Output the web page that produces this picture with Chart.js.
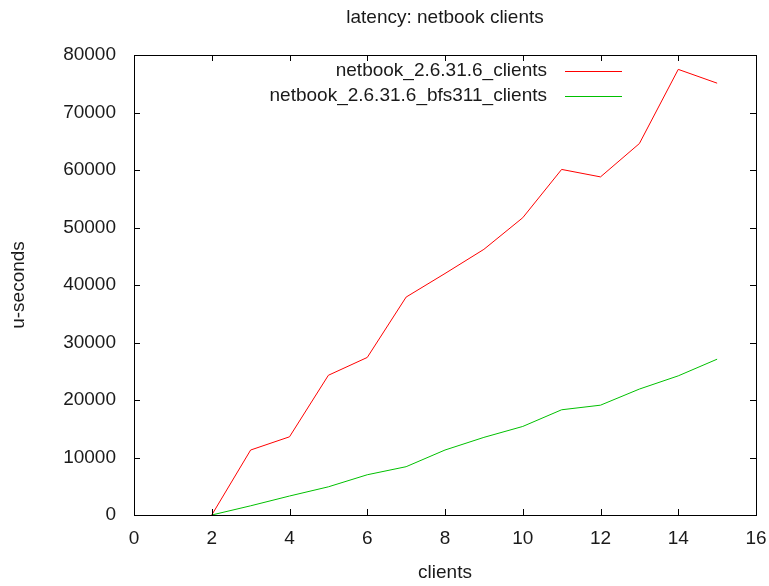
<!DOCTYPE html>
<html>
<head>
<meta charset="utf-8">
<title>latency: netbook clients</title>
<script src="https://cdn.jsdelivr.net/npm/chart.js@4/dist/chart.umd.min.js"></script>
<style>
  html, body { margin: 0; padding: 0; background: #fff; }
  #wrap { width: 769px; height: 586px; }
</style>
</head>
<body>
<div id="wrap"><canvas id="chart" width="769" height="586"></canvas></div>
<script>
// Number of clients on the x axis
const clients = [2, 3, 4, 5, 6, 7, 8, 9, 10, 11, 12, 13, 14, 15];
// Latency in microseconds, stock kernel
const stockLatency = [0, 11300, 13600, 24300, 27400, 37900, 42000, 46200, 51700, 60100, 58800, 64600, 77500, 75100];
// Latency in microseconds, BFS 311 kernel
const bfsLatency = [0, 1600, 3300, 4900, 7000, 8400, 11300, 13500, 15400, 18300, 19100, 21900, 24200, 27100];
const seriesNames = ['netbook_2.6.31.6_clients', 'netbook_2.6.31.6_bfs311_clients'];
const seriesColors = ['#ff0000', '#00c000'];
const chartTitle = 'latency: netbook clients';
const xTitle = 'clients';
const yTitle = 'u-seconds';

const FONT = "'Liberation Sans', Arial, sans-serif";
const FONT_SIZE = 19;
const TEXT = '#1a1a1a';

function points(ys) {
  return clients.map((c, i) => ({ x: c, y: ys[i] }));
}

// Gnuplot-style frame: border on four sides with inward, mirrored tick marks,
// a title centred over the plot area, and a key in the upper right with the
// sample line after the label.
const framePlugin = {
  id: 'frame',
  afterDraw(chart) {
    const { ctx, chartArea: a, scales } = chart;
    const tick = 6;
    ctx.save();
    ctx.strokeStyle = '#000';
    ctx.lineWidth = 1;
    ctx.beginPath();
    scales.x.ticks.forEach(t => {
      const px = Math.round(scales.x.getPixelForValue(t.value)) + 0.5;
      ctx.moveTo(px, a.bottom); ctx.lineTo(px, a.bottom - tick);
      ctx.moveTo(px, a.top); ctx.lineTo(px, a.top + tick);
    });
    scales.y.ticks.forEach(t => {
      const py = Math.round(scales.y.getPixelForValue(t.value)) + 0.5;
      ctx.moveTo(a.left, py); ctx.lineTo(a.left + tick, py);
      ctx.moveTo(a.right, py); ctx.lineTo(a.right - tick, py);
    });
    ctx.stroke();
    ctx.strokeRect(Math.round(a.left) + 0.5, Math.round(a.top) + 0.5,
                   Math.round(a.right - a.left), Math.round(a.bottom - a.top));

    ctx.font = FONT_SIZE + 'px ' + FONT;
    ctx.textBaseline = 'middle';
    ctx.fillStyle = TEXT;

    // title
    ctx.textAlign = 'center';
    ctx.fillText(chartTitle, (a.left + a.right) / 2, 18);

    // key
    ctx.textAlign = 'right';
    const textRight = 547, lineL = 565, lineR = 622;
    const rows = [71, 96];
    chart.data.datasets.forEach((ds, i) => {
      ctx.fillStyle = TEXT;
      ctx.fillText(ds.label, textRight, rows[i]);
      ctx.strokeStyle = ds.borderColor;
      ctx.beginPath();
      ctx.moveTo(lineL, rows[i] + 0.5);
      ctx.lineTo(lineR, rows[i] + 0.5);
      ctx.stroke();
    });
    ctx.restore();
  }
};

new Chart(document.getElementById('chart'), {
  type: 'line',
  data: {
    datasets: [
      { label: seriesNames[0], data: points(stockLatency), borderColor: seriesColors[0],
        backgroundColor: seriesColors[0], borderWidth: 1, pointRadius: 0, tension: 0, fill: false },
      { label: seriesNames[1], data: points(bfsLatency), borderColor: seriesColors[1],
        backgroundColor: seriesColors[1], borderWidth: 1, pointRadius: 0, tension: 0, fill: false }
    ]
  },
  options: {
    responsive: false,
    devicePixelRatio: 1,
    animation: false,
    layout: { padding: { left: 0, right: 13, top: 55, bottom: 0 } },
    plugins: {
      legend: { display: false },
      tooltip: { enabled: false },
      title: { display: false }
    },
    scales: {
      x: {
        type: 'linear',
        min: 0, max: 16,
        grid: { display: false, drawTicks: false },
        border: { display: false },
        ticks: { stepSize: 2, padding: 12, color: TEXT, font: { family: FONT, size: FONT_SIZE }, maxRotation: 0 },
        title: { display: true, text: xTitle, color: TEXT, font: { family: FONT, size: FONT_SIZE }, padding: { top: 0, bottom: 2 } },
        afterFit(scale) { scale.height = 71; scale.paddingRight = 0; scale.paddingLeft = 0; }
      },
      y: {
        min: 0, max: 80000,
        grid: { display: false, drawTicks: false },
        border: { display: false },
        ticks: { stepSize: 10000, padding: 18, color: TEXT, font: { family: FONT, size: FONT_SIZE },
                 callback: v => String(v) },
        title: { display: true, text: yTitle, color: TEXT, font: { family: FONT, size: FONT_SIZE }, padding: { top: 7, bottom: 0 } },
        afterFit(scale) { scale.width = 134; scale.paddingTop = 0; scale.paddingBottom = 0; }
      }
    }
  },
  plugins: [framePlugin]
});
</script>
</body>
</html>
